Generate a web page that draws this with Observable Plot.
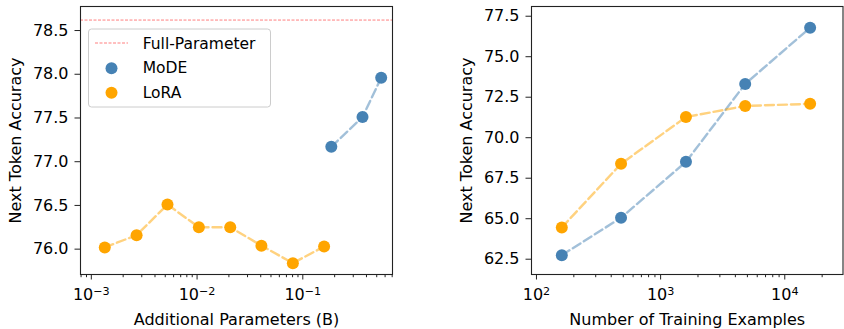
<!DOCTYPE html>
<html><head><meta charset="utf-8">
<script src="https://cdn.jsdelivr.net/npm/d3@7"></script>
<script src="https://cdn.jsdelivr.net/npm/@observablehq/plot@0.6"></script>
<style>
body{margin:0;background:#fff;}
#wrap{position:relative;width:844px;height:329px;font-family:"DejaVu Sans",sans-serif;background:#fff;overflow:hidden;}
#left{position:absolute;left:0;top:0;}
#right{position:absolute;left:422px;top:0;}
#legend{position:absolute;left:0;top:0;pointer-events:none;}
</style></head>
<body><div id="wrap"><div id="left"></div><div id="right"></div>
<svg id="legend" width="844" height="329" font-family="DejaVu Sans" font-size="15.5">
  <rect x="88.5" y="29" width="182" height="78" rx="3" ry="3" fill="#fff" fill-opacity="0.8" stroke="#cccccc" stroke-width="1"/>
  <line x1="95" x2="128" y1="43" y2="43" stroke="#ff0000" stroke-opacity="0.5" stroke-width="1" stroke-dasharray="3,1.5"/>
  <circle id="lgMoDE" cx="111.5" cy="68.3" r="6"/>
  <circle id="lgLoRA" cx="111.5" cy="92.7" r="6"/>
  <text id="lgT0" x="142.7" y="49" fill="#000"></text>
  <text id="lgT1" x="142.7" y="73.3" fill="#000"></text>
  <text id="lgT2" x="142.7" y="97.7" fill="#000"></text>
</svg>
</div>
<script>
// ---- data: left panel (additional parameters, billions) ----
const loraParams = [0.00134, 0.00268, 0.00525, 0.0104, 0.0206, 0.0406, 0.0805, 0.159];
const loraAcc    = [76.02, 76.16, 76.51, 76.25, 76.25, 76.04, 75.84, 76.03];
const modeParams = [0.186, 0.367, 0.551];
const modeAcc    = [77.17, 77.51, 77.96];
const fullParamAcc = 78.62;

// ---- data: right panel (number of training examples) ----
const examples     = [160, 480, 1600, 4800, 16000];
const modeAccEx    = [62.75, 65.06, 68.51, 73.32, 76.79];
const loraAccEx    = [64.46, 68.39, 71.28, 71.96, 72.09];

// ---- labels / ticks ----
const seriesNames = ["Full-Parameter", "MoDE", "LoRA"];
const seriesColors = {MoDE: "#4682b4", LoRA: "#ffa500", full: "#ff0000"};
const leftXTicks = [1e-3, 1e-2, 1e-1];
const leftXTickExps = ["−3", "−2", "−1"];
const rightXTicks = [1e2, 1e3, 1e4];
const rightXTickExps = ["2", "3", "4"];
const leftYTicks = [76.0, 76.5, 77.0, 77.5, 78.0, 78.5];
const rightYTicks = [62.5, 65.0, 67.5, 70.0, 72.5, 75.0, 77.5];
const yTitle = "Next Token Accuracy";
const leftXTitle = "Additional Parameters (B)";
const rightXTitle = "Number of Training Examples";

const leftXDomain = [7.9e-4, 0.705];
const leftYDomain = [75.71, 78.775];
const rightXDomain = [91.2, 29440];
const rightYDomain = [61.556, 78.1];

function minorTicks([lo, hi]) {
  const out = [];
  for (let e = Math.floor(Math.log10(lo)); e <= Math.ceil(Math.log10(hi)); e++) {
    for (let m = 2; m <= 9; m++) {
      const v = m * Math.pow(10, e);
      if (v >= lo && v <= hi) out.push(v);
    }
  }
  return out;
}

const rows = (xs, ys) => xs.map((x, i) => ({x, y: ys[i]}));
const lineOpts = (c) => ({x: "x", y: "y", stroke: c, strokeOpacity: 0.5, strokeWidth: 2.4, strokeDasharray: "9,4"});
const dotOpts = (c) => ({x: "x", y: "y", fill: c, r: 6});

function panel({width, marginLeft, marginRight, xDomain, yDomain, xTicks, xTickExps, yTicks, xTitle, extra, series}) {
  const svg = Plot.plot({
    width, height: 329,
    marginLeft, marginRight, marginTop: 6, marginBottom: 55,
    style: {fontFamily: "DejaVu Sans", fontSize: "16px", color: "#000", background: "transparent", overflow: "visible"},
    x: {type: "log", domain: xDomain},
    y: {domain: yDomain},
    marks: [
      ...extra,
      ...series.map(s => Plot.line(s.data, lineOpts(s.color))),
      ...series.map(s => Plot.dot(s.data, dotOpts(s.color))),
      Plot.frame({stroke: "#222", strokeWidth: 1.1}),
      Plot.axisY({ticks: yTicks, tickFormat: d3.format(".1f"), tickSize: 5.5, tickPadding: 6.5, fontSize: 16, label: null, stroke: "#222"}),
      Plot.axisX({ticks: minorTicks(xDomain), tickSize: 3.2, tickFormat: () => "", label: null, stroke: "#222"}),
      Plot.axisX({ticks: xTicks, tickSize: 5.5, tickPadding: 8.8, fontSize: 16, tickFormat: d => "10^" + xTickExps[xTicks.indexOf(d)], label: null, stroke: "#222"}),
      Plot.text([xTitle], {text: d => d, frameAnchor: "bottom", textAnchor: "middle", lineAnchor: "middle", dy: 45, fontSize: 16}),
      Plot.text([yTitle], {text: d => d, frameAnchor: "left", textAnchor: "middle", lineAnchor: "middle", dx: -64.5, rotate: -90, fontSize: 16})
    ]
  });
  // render "10^e" tick labels as a base with a raised superscript
  svg.querySelectorAll("text").forEach(t => {
    const s = t.textContent;
    if (/^10\^/.test(s)) {
      const exp = s.slice(3);
      t.textContent = "10";
      const ts = document.createElementNS("http://www.w3.org/2000/svg", "tspan");
      ts.setAttribute("dy", "-0.42em");
      ts.setAttribute("font-size", "70%");
      ts.textContent = exp;
      t.appendChild(ts);
    }
  });
  return svg;
}

const leftPlot = panel({
  width: 422, marginLeft: 80, marginRight: 30,
  xDomain: leftXDomain, yDomain: leftYDomain,
  xTicks: leftXTicks, xTickExps: leftXTickExps, yTicks: leftYTicks,
  xTitle: leftXTitle,
  extra: [Plot.ruleY([fullParamAcc], {stroke: seriesColors.full, strokeOpacity: 0.5, strokeWidth: 1, strokeDasharray: "3,1.5"})],
  series: [
    {data: rows(loraParams, loraAcc), color: seriesColors.LoRA},
    {data: rows(modeParams, modeAcc), color: seriesColors.MoDE}
  ]
});
document.getElementById("left").appendChild(leftPlot);

const rightPlot = panel({
  width: 422, marginLeft: 109, marginRight: 1.5,
  xDomain: rightXDomain, yDomain: rightYDomain,
  xTicks: rightXTicks, xTickExps: rightXTickExps, yTicks: rightYTicks,
  xTitle: rightXTitle,
  extra: [],
  series: [
    {data: rows(examples, modeAccEx), color: seriesColors.MoDE},
    {data: rows(examples, loraAccEx), color: seriesColors.LoRA}
  ]
});
document.getElementById("right").appendChild(rightPlot);

// legend text & colours
document.getElementById("lgT0").textContent = seriesNames[0];
document.getElementById("lgT1").textContent = seriesNames[1];
document.getElementById("lgT2").textContent = seriesNames[2];
document.getElementById("lgMoDE").setAttribute("fill", seriesColors.MoDE);
document.getElementById("lgLoRA").setAttribute("fill", seriesColors.LoRA);
</script>
</body></html>
